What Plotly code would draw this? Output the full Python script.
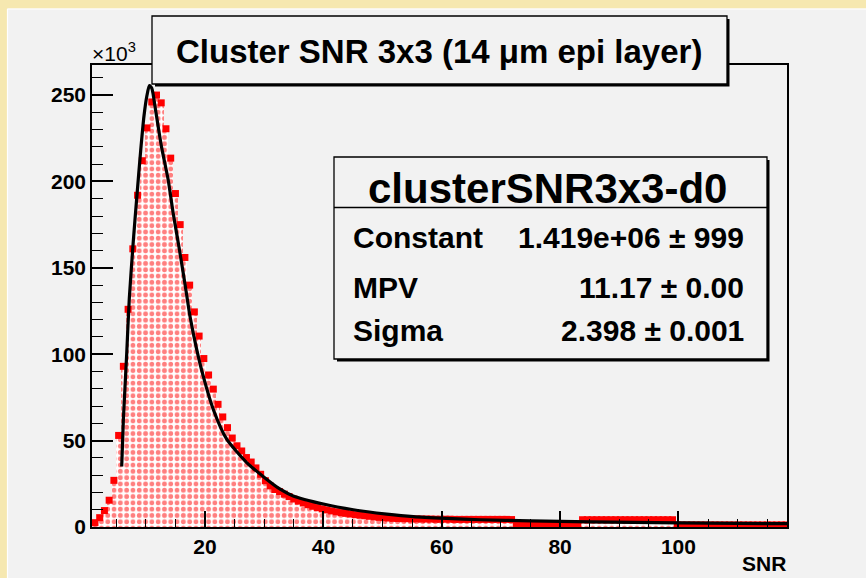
import plotly.graph_objects as go

# ---------------- data (values in units of 10^3) ----------------
bin_width = 0.8
bin_centers = [round(1.4 + 0.8 * k, 2) for k in range(147)]
counts_k = [
    2.5, 5.4, 9.5, 15.5, 27, 53, 93, 126, 161, 192,
    212, 231, 246, 250, 245.5, 230.5, 213.5, 193, 175, 156,
    140, 124.5, 110.5, 97.5, 88, 79.8, 71, 63.7, 57.5, 51.5,
    47, 44, 40.2, 37.6, 34.2, 30.5, 26.8, 23.8, 21.7, 20.5,
    19.0, 17.6, 16.2, 15.0, 13.9, 12.9, 12.0, 11.2, 10.5, 9.9,
    9.3, 8.8, 8.3, 7.9, 7.5, 7.1, 6.8, 6.5, 6.2, 5.9,
    5.6, 5.4, 5.2, 5.0, 4.9, 4.8, 4.8, 4.7, 4.7, 4.6,
    4.6, 4.6, 4.5, 4.5, 4.5, 4.5, 4.4, 4.4, 4.4, 4.4,
    4.4, 4.4, 4.4, 4.4, 4.4, 4.4, 4.4, 4.4, 4.3, 1.8,
    1.8, 1.8, 1.8, 1.8, 1.8, 1.8, 1.8, 1.8, 1.8, 1.8,
    1.8, 1.8, 1.8, 4.2, 4.2, 4.2, 4.2, 4.2, 4.2, 4.2,
    4.2, 4.2, 4.2, 4.2, 4.2, 4.2, 4.2, 4.2, 4.2, 4.2,
    4.2, 4.2, 4.2, 1.2, 1.2, 1.2, 1.2, 1.2, 1.2, 1.2,
    1.2, 1.2, 1.2, 1.2, 1.2, 1.2, 1.2, 1.2, 1.2, 1.2,
    1.2, 1.2, 1.2, 1.2, 1.2, 1.2, 1.2,
]

fit_x = [5.92, 6.2, 6.76, 7.2, 7.87, 8.45, 9.13, 9.69, 10.2, 10.6,
         11.0, 11.7, 12.65, 13.77, 14.6, 15.6, 16.6, 17.46, 18.6, 19.7,
         21.4, 23.66, 27.04, 30.4, 32.7, 34.9, 40.0, 45.06, 50.7, 55.2,
         60.8, 66.5, 75, 85, 100, 110, 118.4]
fit_y = [35, 62, 100, 132, 165, 190, 218, 238, 250, 255.5,
         254, 240, 220, 201, 182, 162, 141, 122, 102.7, 87.3,
         68, 50.8, 37.3, 27.7, 21.9, 18, 13.3, 10, 7.5, 6,
         5, 4.2, 3.6, 3.0, 2.4, 2.1, 1.9]

x_tick_vals = [20, 40, 60, 80, 100]
y_tick_vals = [0, 50, 100, 150, 200, 250]

title_text = "Cluster SNR 3x3 (14 \u03bcm epi layer)"
stats_title = "clusterSNR3x3-d0"
stats_names = ["Constant", "MPV", "Sigma"]
stats_values = ["1.419e+06 \u00b1 999", "11.17 \u00b1 0.00", "2.398 \u00b1 0.001"]

# ---------------- layout geometry (pixels) ----------------
W, H = 866, 578
L, R, T, B = 92, 787, 65, 527
PW, PH = R - L, B - T


def px(x):
    return (x - L) / PW


def py(y):
    return (B - y) / PH


FONT = "Liberation Sans, Arial, sans-serif"
BG = "#f2f2f2"

fig = go.Figure()

fig.add_trace(go.Bar(
    x=bin_centers, y=counts_k, width=bin_width,
    marker=dict(color="white", line=dict(width=0),
                pattern=dict(shape=".", fgcolor="red", bgcolor="white",
                             size=6.3, solidity=0.45)),
    hoverinfo="skip", showlegend=False,
))
fig.add_trace(go.Scatter(
    x=bin_centers, y=counts_k, mode="markers",
    marker=dict(symbol="square", size=7, color="red", line=dict(width=0)),
    showlegend=False,
))
fig.add_trace(go.Scatter(
    x=fit_x, y=fit_y, mode="lines",
    line=dict(color="black", width=3.2, shape="spline", smoothing=0.6),
    showlegend=False,
))

fig.update_layout(
    width=W, height=H,
    margin=dict(l=L, r=W - R, t=T, b=H - B),
    paper_bgcolor=BG, plot_bgcolor=BG,
    bargap=0, showlegend=False,
    font=dict(family=FONT, color="black"),
)

fig.update_xaxes(
    range=[0.9, 118.35], showgrid=False, zeroline=False,
    showline=True, linecolor="black", linewidth=1.6, mirror=True,
    ticks="inside", ticklen=16, tickwidth=1.5, tickcolor="black",
    tickvals=x_tick_vals,
    tickfont=dict(family=FONT, size=21, weight="bold", color="black"),
    minor=dict(ticks="inside", ticklen=8, tickwidth=1.4, tickcolor="black", dtick=5, tick0=0),
)
fig.update_yaxes(
    range=[0, 267.4], showgrid=False, zeroline=False,
    showline=True, linecolor="black", linewidth=1.6, mirror=True,
    ticks="inside", ticklen=21, tickwidth=1.5, tickcolor="black",
    tickvals=y_tick_vals,
    tickfont=dict(family=FONT, size=21, weight="bold", color="black"),
    minor=dict(ticks="inside", ticklen=11, tickwidth=1.4, tickcolor="black", dtick=10, tick0=0),
)

shapes = []
# yellow outer border (top and left)
YEL = "#f6e8b0"
shapes.append(dict(type="rect", xref="paper", yref="paper", layer="below",
                   x0=px(0), x1=px(W), y0=py(8.5), y1=py(0),
                   fillcolor=YEL, line=dict(width=0)))
shapes.append(dict(type="rect", xref="paper", yref="paper", layer="below",
                   x0=px(0), x1=px(7), y0=py(H), y1=py(0),
                   fillcolor=YEL, line=dict(width=0)))
shapes.append(dict(type="line", xref="paper", yref="paper", layer="below",
                   x0=px(7.5), x1=px(W), y0=py(9), y1=py(9),
                   line=dict(color="white", width=1.2)))
shapes.append(dict(type="line", xref="paper", yref="paper", layer="below",
                   x0=px(7.5), x1=px(7.5), y0=py(9), y1=py(H),
                   line=dict(color="white", width=1.2)))


def box(x0, y0, x1, y1):
    # shadow
    shapes.append(dict(type="rect", xref="paper", yref="paper", layer="above",
                       x0=px(x0 + 3), x1=px(x1 + 2.5), y0=py(y1 + 2.5), y1=py(y0 + 3),
                       fillcolor="black", line=dict(width=0)))
    shapes.append(dict(type="rect", xref="paper", yref="paper", layer="above",
                       x0=px(x0), x1=px(x1), y0=py(y1), y1=py(y0),
                       fillcolor=BG, line=dict(color="black", width=1.3)))


box(152, 16, 727, 84)
box(334, 157, 767, 359)
shapes.append(dict(type="line", xref="paper", yref="paper", layer="above",
                   x0=px(334), x1=px(767), y0=py(207.5), y1=py(207.5),
                   line=dict(color="black", width=1.3)))
fig.update_layout(shapes=shapes)

ann = []


def text(x, y, s, size, xanchor="center", weight="bold"):
    ann.append(dict(xref="paper", yref="paper", x=px(x), y=py(y), text=s,
                    showarrow=False, xanchor=xanchor, yanchor="middle",
                    font=dict(family=FONT, size=size, weight=weight, color="black")))


text(439, 52, title_text, 33)
text(547, 188, stats_title, 42)
row_y = [237, 287, 330]
for name, val, yy in zip(stats_names, stats_values, row_y):
    text(351, yy, name, 30, xanchor="left")
    text(746, yy, val, 30, xanchor="right")
text(788, 563, "SNR", 21, xanchor="right")
text(90, 52, "\u00d710<sup>3</sup>", 21, xanchor="left", weight="normal")
fig.update_layout(annotations=ann)

fig.write_html("out.html")
